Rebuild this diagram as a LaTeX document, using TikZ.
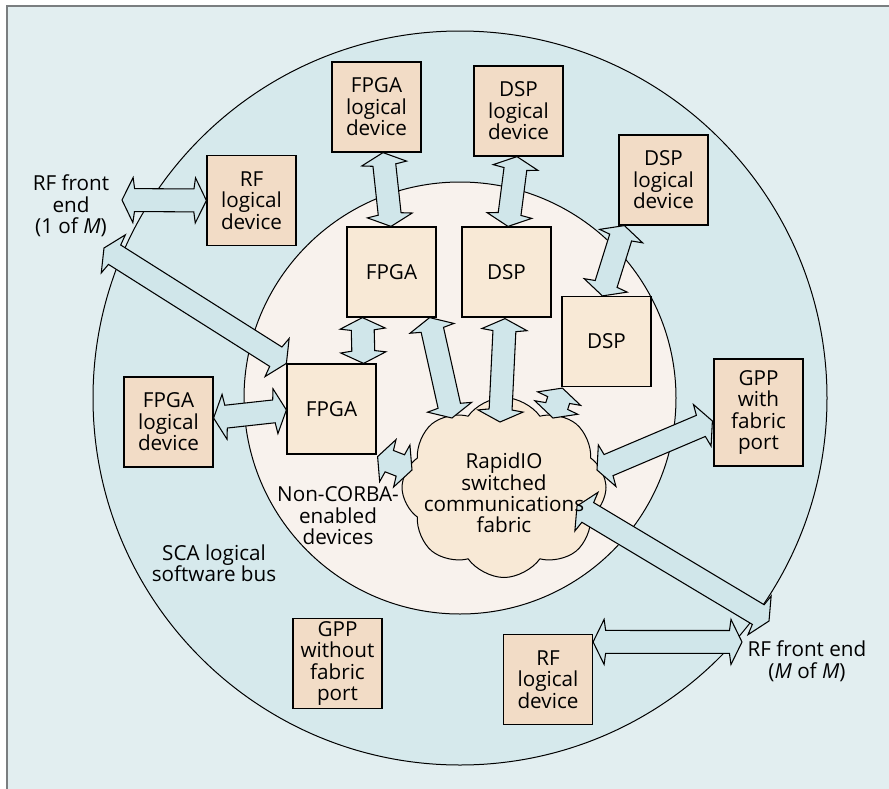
\documentclass[tikz,border=0pt]{standalone}
\usepackage{fontspec}
\setmainfont{Open Sans}
\usetikzlibrary{calc,shapes.symbols}

\definecolor{framebg}{HTML}{E2EEF0}
\definecolor{framegray}{HTML}{7A7E80}
\definecolor{busfill}{HTML}{D6E9EC}
\definecolor{corefill}{HTML}{F8F2ED}
\definecolor{ldfill}{HTML}{F2DCC6}
\definecolor{devfill}{HTML}{F8E9D6}
\definecolor{arrfill}{HTML}{D0E6EA}

\newcommand\dgmfont{\fontsize{15.5pt}{16.1pt}\selectfont}

% block double arrow: head length, barb-to-shaft length, head and shaft half widths
\def\bahl{8.25pt}
\def\bajl{9.4pt}
\def\bahw{16.9pt}
\def\basw{8.6pt}
\newcommand\blockarrow[2]{%
  \begin{scope}
    \coordinate (ba-a) at ($(#1)!\bahl!(#2)$);
    \coordinate (ba-b) at ($(#2)!\bahl!(#1)$);
    \coordinate (ba-aj) at ($(#1)!\bajl!(#2)$);
    \coordinate (ba-bj) at ($(#2)!\bajl!(#1)$);
    \filldraw[blockarr] (#1)
      -- ($(ba-a)!\bahw!90:(#2)$) -- ($(ba-aj)!\basw!90:(#2)$)
      -- ($(ba-bj)!\basw!-90:(#1)$) -- ($(ba-b)!\bahw!-90:(#1)$)
      -- (#2)
      -- ($(ba-b)!\bahw!90:(#1)$) -- ($(ba-bj)!\basw!90:(#1)$)
      -- ($(ba-aj)!\basw!-90:(#2)$) -- ($(ba-a)!\bahw!-90:(#2)$)
      -- cycle;
  \end{scope}}

\begin{document}
\begin{tikzpicture}[x=0.75pt,y=-0.75pt,
  ldbox/.style={draw, line width=0.9pt, fill=ldfill, minimum width=66.75pt,
    minimum height=67.5pt, align=center, font=\dgmfont, inner sep=0pt},
  devbox/.style={ldbox, fill=devfill},
  lbl/.style={align=center, font=\dgmfont, inner sep=0pt},
  blockarr/.style={draw, line width=0.8pt, fill=arrfill, line join=miter},
  ring/.style={draw, line width=0.75pt}]
\useasboundingbox (0,0) rectangle (889,789);
\clip (0,0) rectangle (889,789);
\fill[white] (0,0) rectangle (889,789);

% frame and the two rings
\draw[line width=1.5pt, draw=framegray, fill=framebg] (6.5,6.2) rectangle (920,820);
\draw[ring, fill=busfill] (460,398) circle [radius=275.25pt];
\draw[ring, fill=corefill] (460,398) circle [radius=162pt];

% logical devices and physical devices
\node[ldbox] (fpgaLD) at (376.5,107) {FPGA\\logical\\device};
\node[ldbox] (rfLD) at (251.5,200.5) {RF\\logical\\device};
\node[devbox] (fpgaA) at (391.5,272) {FPGA};
\node[devbox] (fpgaB) at (331.5,409) {FPGA};
\node[ldbox] (fpgaLDb) at (168.5,422) {FPGA\\logical\\device};
\node[ldbox] (dspLD) at (518.5,111) {DSP\\logical\\device};
\node[devbox] (dspA) at (506.5,272) {DSP};
\node[ldbox] (dspLDb) at (663.5,180) {DSP\\logical\\device};
\node[devbox] (dspB) at (606.5,341.5) {DSP};
\node[ldbox, minimum height=80.25pt] (gppF) at (758.5,412.5) {GPP\\with\\fabric\\port};
\node[ldbox] (gppN) at (337.5,663.5) {GPP\\without\\fabric\\port};
\node[ldbox] (rfLDb) at (548,679.5) {RF\\logical\\device};

% switched fabric
\node[cloud, cloud puffs=8, cloud puff arc=110, cloud ignores aspect, draw,
  line width=0.75pt, fill=devfill, minimum width=153pt, minimum height=135pt,
  inner sep=0pt] (fabric) at (504,487.5) {};

% arrow end points
\coordinate (rfOneEnd) at (122,200);
\coordinate (rfOneBus) at (104,248);
\coordinate (rfMBus) at (769,621);
\coordinate (rfMEnd) at (742,642);
\coordinate (fpgaLDs) at ($(fpgaLD.south)+(6.5,0)$);
\coordinate (fpgaAn) at ($(fpgaA.north)+(-0.5,0)$);
\coordinate (dspLDs) at ($(dspLD.south)+(-1.5,0)$);
\coordinate (dspAn) at ($(dspA.north)+(1.5,0)$);
\coordinate (dspLDbs) at ($(dspLDb.south west)+(6,0)$);
\coordinate (dspBn) at ($(dspB.north west)+(41,0)$);
\coordinate (fpgaAsw) at ($(fpgaA.south west)+(16,0)$);
\coordinate (fpgaBn) at ($(fpgaB.north east)+(-13,0)$);
\coordinate (fpgaLDbe) at ($(fpgaLDb.east)+(0,-4)$);
\coordinate (fpgaBw) at ($(fpgaB.west)+(0,1)$);
\coordinate (fpgaAse) at ($(fpgaA.south east)+(-7,0)$);
\coordinate (fabA) at ($(fabric.center)+(-52,-69.5)$);
\coordinate (dspAs) at ($(dspA.south)+(-1.5,1)$);
\coordinate (fabB) at ($(fabric.center)+(-4,-65.5)$);
\coordinate (dspBsw) at ($(dspB.south west)+(1,1)$);
\coordinate (fabC) at ($(fabric.center)+(49,-69.5)$);
\coordinate (fpgaBse) at ($(fpgaB.south east)+(1,2)$);
\coordinate (fabD) at ($(fabric.center)+(-92,-17.5)$);
\coordinate (fabE) at ($(fabric.center)+(93,-17.5)$);
\coordinate (gppFw) at ($(gppF.west)+(-1,8.5)$);
\coordinate (fabF) at ($(fabric.center)+(73,18.5)$);
\coordinate (rfLDbe) at ($(rfLDb.north east)+(0,8)$);

% connections
\blockarrow{rfOneEnd}{rfLD.west}
\blockarrow{rfOneBus}{fpgaB.north west}
\blockarrow{fpgaLDs}{fpgaAn}
\blockarrow{dspLDs}{dspAn}
\blockarrow{dspLDbs}{dspBn}
\blockarrow{fpgaAsw}{fpgaBn}
\blockarrow{fpgaLDbe}{fpgaBw}
\blockarrow{fpgaAse}{fabA}
\blockarrow{dspAs}{fabB}
\blockarrow{dspBsw}{fabC}
\blockarrow{fpgaBse}{fabD}
\blockarrow{fabE}{gppFw}
\blockarrow{fabF}{rfMBus}
\blockarrow{rfLDbe}{rfMEnd}

% labels
\node[lbl] (rfOneLbl) at (71,206) {RF front\\end\\(1 of \textit{M})};
\node[lbl] (corbaLbl) at (338,516) {Non-CORBA-\\enabled\\devices};
\node[lbl] (scaLbl) at (214,563) {SCA logical\\software bus};
\node[lbl] (fabricLbl) at (504,493) {RapidIO\\switched\\communications\\fabric};
\node[lbl] (rfMLbl) at (807,661) {RF front end\\(\textit{M} of \textit{M})};
\end{tikzpicture}
\end{document}
